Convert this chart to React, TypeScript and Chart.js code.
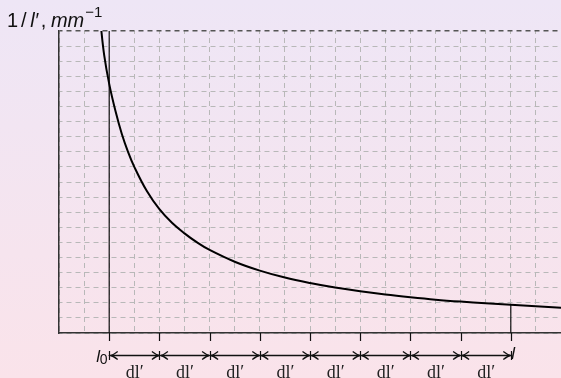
import React, { useEffect, useRef } from "react";
import { Chart, registerables } from "chart.js";

Chart.register(...registerables);

// Curve 1/l' (x in grid units, y in grid units)
const curveX = [1.65, 1.8, 2, 2.25, 2.5, 2.75, 3, 3.5, 4, 4.5, 5, 5.5, 6, 7, 8, 9, 10, 11, 12, 13, 14, 15, 16, 17, 18, 19, 20];
const curveY = [20.6, 18.4, 16.5, 14.7, 13.2, 12.0, 11.0, 9.4, 8.2, 7.3, 6.6, 6.0, 5.5, 4.72, 4.13, 3.67, 3.31, 3.01, 2.76, 2.55, 2.37, 2.21, 2.08, 1.97, 1.87, 1.77, 1.68];

const xMin = 0;
const xMax = 20;
const yMin = 0;
const yMax = 20;

const l0 = 2;
const lEnd = 18;
const stepTicks = [2, 4, 6, 8, 10, 12, 14, 16, 18];
const stepLabel = "dl\u2032";

const sans = "'Liberation Sans', Arial, sans-serif";
const serif = "'Liberation Serif', 'Times New Roman', serif";

const annotPlugin = {
  id: "annot",
  afterDraw(chart: any) {
    const ctx = chart.ctx;
    const xs = chart.scales.x;
    const ys = chart.scales.y;
    const base = ys.getPixelForValue(0);
    const arrowY = 355.5;
    ctx.save();
    ctx.strokeStyle = "#111";
    ctx.fillStyle = "#111";
    ctx.lineWidth = 1.2;
    // tick marks below axis
    stepTicks.forEach((v) => {
      const px = Math.round(xs.getPixelForValue(v)) + 0.5;
      ctx.beginPath();
      ctx.moveTo(px, base);
      ctx.lineTo(px, base + 8);
      ctx.stroke();
      ctx.beginPath();
      ctx.moveTo(px, arrowY - 4.5);
      ctx.lineTo(px, arrowY + 4.5);
      ctx.stroke();
    });
    // arrows
    ctx.lineWidth = 1.3;
    for (let i = 0; i < stepTicks.length - 1; i++) {
      const a = xs.getPixelForValue(stepTicks[i]) + 1.5;
      const b = xs.getPixelForValue(stepTicks[i + 1]) - 0.5;
      ctx.beginPath();
      ctx.moveTo(a, arrowY);
      ctx.lineTo(b, arrowY);
      ctx.stroke();
      ctx.beginPath();
      ctx.moveTo(a + 7, arrowY - 4);
      ctx.quadraticCurveTo(a + 2.5, arrowY - 0.6, a, arrowY);
      ctx.quadraticCurveTo(a + 2.5, arrowY + 0.6, a + 7, arrowY + 4);
      ctx.stroke();
      ctx.beginPath();
      ctx.moveTo(b - 7, arrowY - 4);
      ctx.quadraticCurveTo(b - 2.5, arrowY - 0.6, b, arrowY);
      ctx.quadraticCurveTo(b - 2.5, arrowY + 0.6, b - 7, arrowY + 4);
      ctx.stroke();
      // dl' label
      ctx.font = `18px ${serif}`;
      ctx.fillStyle = "#222";
      ctx.textAlign = "center";
      ctx.textBaseline = "alphabetic";
      ctx.fillText(stepLabel, (a + b) / 2, 378);
    }
    // l0 label
    ctx.fillStyle = "#111";
    ctx.textAlign = "left";
    const px0 = xs.getPixelForValue(l0);
    ctx.font = `italic 17px ${sans}`;
    ctx.fillText("l", px0 - 13, 361.5);
    ctx.font = `14px ${sans}`;
    ctx.fillText("0", px0 - 9.5, 363.5);
    // l label
    const pxl = xs.getPixelForValue(lEnd);
    ctx.font = `italic 17px ${sans}`;
    ctx.fillText("l", pxl + 0.5, 358.5);

    // y-axis title: 1 / l', mm^-1
    let x = 7;
    const by = 26.5;
    const seg = (t: string, font: string, dy = 0, gap = 0) => {
      ctx.font = font;
      ctx.fillText(t, x, by + dy);
      x += ctx.measureText(t).width + gap;
    };
    const up = `20px ${sans}`;
    const it = `italic 20px ${sans}`;
    seg("1", up, 0, 3);
    seg("/", up, 0, 3.5);
    seg("l\u2032", it, 0, 2.5);
    seg(",", up, 0, 4.5);
    seg("mm", it, 0, 1);
    seg("\u22121", `15px ${sans}`, -10, 0);
    ctx.restore();
  },
};

export default function App() {
  const ref = useRef<HTMLCanvasElement | null>(null);
  useEffect(() => {
    if (!ref.current) return;
    const chart = new Chart(ref.current, {
      type: "line",
      data: {
        datasets: [
          {
            data: curveX.map((x, i) => ({ x, y: curveY[i] })),
            borderColor: "#000",
            borderWidth: 2,
            pointRadius: 0,
            tension: 0.4,
            clip: 0,
          },
          {
            data: [
              { x: l0, y: yMin },
              { x: l0, y: yMax },
            ],
            borderColor: "#111",
            borderWidth: 1.2,
            pointRadius: 0,
          },
          {
            data: [
              { x: lEnd, y: yMin },
              { x: lEnd, y: curveY[curveX.indexOf(lEnd)] },
            ],
            borderColor: "#111",
            borderWidth: 1.2,
            pointRadius: 0,
          },
        ],
      } as any,
      options: {
        animation: false,
        responsive: false,
        maintainAspectRatio: false,
        layout: { padding: { left: 59, top: 31, right: 0, bottom: 45 } },
        plugins: { legend: { display: false }, tooltip: { enabled: false } },
        scales: {
          x: {
            type: "linear",
            min: xMin,
            max: xMax,
            ticks: { display: false, stepSize: 1 },
            grid: {
              drawTicks: false,
              color: "#b8b8b8",
              lineWidth: 1,
            },
            border: { display: true, color: "#333", width: 1.5, dash: [5, 4], dashOffset: 2 },
          },
          y: {
            type: "linear",
            min: yMin,
            max: yMax,
            ticks: { display: false, stepSize: 1 },
            grid: {
              drawTicks: false,
              color: (c: any) => (c.tick && c.tick.value === yMax ? "#555" : "#b8b8b8"),
              lineWidth: (c: any) => (c.tick && c.tick.value === yMax ? 1.5 : 1),
            },
            border: { display: true, color: "#333", width: 1.5, dash: [5, 4], dashOffset: 2 },
          },
        },
      },
      plugins: [annotPlugin],
    } as any);
    return () => chart.destroy();
  }, []);
  return (
    <div
      style={{
        position: "absolute",
        left: 0,
        top: 0,
        width: 561,
        height: 378,
        background: "linear-gradient(to bottom, #EEE6F6, #FAE3EA)",
      }}
    >
      <canvas ref={ref} width={561} height={378} style={{ display: "block", width: 561, height: 378 }} />
    </div>
  );
}
